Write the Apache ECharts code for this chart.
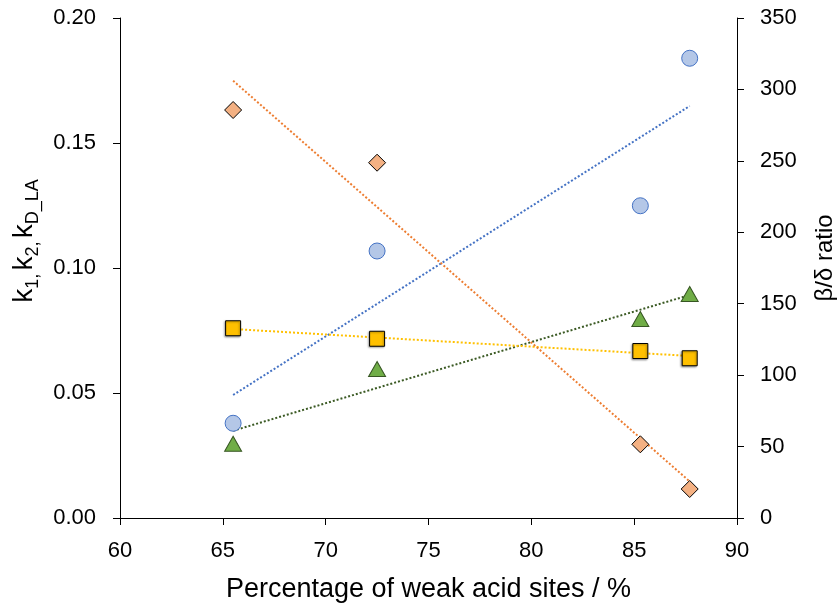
<!DOCTYPE html>
<style>
body {margin: 0; background: #fff;}
#div_echart {height: 604px; width: 837px;}
</style>
<script src='https://cdn.jsdelivr.net/npm/echarts@6/dist/echarts.min.js'></script>
<div id='div_echart'></div>
<script>
// weak acid site percentage of the four samples
let weakSites = [65.5, 72.5, 85.3, 87.7]
// rate constants (left axis)
let k1 = [0.0379, 0.1068, 0.1249, 0.1839]
let k2 = [0.0297, 0.0596, 0.0796, 0.0896]
let kDLA = [0.0759, 0.0717, 0.0668, 0.0639]
// beta/delta ratio (right axis)
let ratio = [285.6, 248.7, 51.6, 20.3]
// dotted trendlines, read at the first and last x
let trendX = [65.5, 87.7]
let k1Trend = [0.0492, 0.1648]
let k2Trend = [0.0349, 0.0892]
let kDLATrend = [0.0756, 0.0648]
let ratioTrend = [306.1, 25.6]

let font = 'Liberation Sans'
let echart = echarts.init(document.getElementById('div_echart'))

function pts(xs, ys) {
	return xs.map((x, i) => [x, ys[i]])
}
function scatter(name, data, yAxisIndex, symbol, size, fill, border, extra) {
	return Object.assign({
		name, type: 'scatter', yAxisIndex, data, symbol, symbolSize: size, z: 3,
		itemStyle: {color: fill, borderColor: border, borderWidth: 1, opacity: 1}
	}, extra || {})
}
function trend(name, data, yAxisIndex, color) {
	return {
		name, type: 'line', yAxisIndex, data, showSymbol: false, symbol: 'none', z: 2,
		lineStyle: {color, width: 2, type: [2, 2]}, silent: true
	}
}

let axisCommon = {
	axisLine: {show: true, lineStyle: {color: '#000', width: 1}},
	axisTick: {show: true, length: 7, lineStyle: {color: '#000'}},
	splitLine: {show: false},
	axisLabel: {color: '#000', fontFamily: font, fontSize: 22}
}

echart.setOption({
	animation: false,
	grid: {left: 120, right: 100, top: 18, bottom: 86, containLabel: false, outerBoundsMode: 'none'},
	xAxis: Object.assign({}, axisCommon, {
		type: 'value', min: 60, max: 90, interval: 5,
		axisLabel: Object.assign({}, axisCommon.axisLabel, {margin: 22}),
		name: 'Percentage of weak acid sites / %',
		nameLocation: 'middle', nameGap: 58,
		nameTextStyle: {color: '#000', fontFamily: font, fontSize: 27}
	}),
	yAxis: [
		Object.assign({}, axisCommon, {
			type: 'value', min: 0, max: 0.2, interval: 0.05, position: 'left',
			axisLabel: Object.assign({}, axisCommon.axisLabel, {margin: 24, formatter: v => v.toFixed(2)}),
			name: '{m|k}{s|1,} {m|k}{s|2,} {m|k}{s|D_LA}',
			nameLocation: 'middle', nameRotate: 90, nameGap: 72,
			nameTextStyle: {
				color: '#000', fontFamily: font, padding: [0, 0, 0, 54],
				rich: {
					m: {fontFamily: font, fontSize: 28, lineHeight: 36, verticalAlign: 'middle', color: '#000'},
					s: {fontFamily: font, fontSize: 18, lineHeight: 36, verticalAlign: 'bottom', color: '#000'}
				}
			}
		}),
		Object.assign({}, axisCommon, {
			type: 'value', min: 0, max: 350, interval: 50, position: 'right',
			axisLabel: Object.assign({}, axisCommon.axisLabel, {margin: 23}),
			name: 'β/δ ratio',
			nameLocation: 'middle', nameRotate: 90, nameGap: 76,
			nameTextStyle: {color: '#000', fontFamily: font, fontSize: 24, padding: [0, 0, 0, 20]}
		})
	],
	series: [
		trend('k1 trend', pts(trendX, k1Trend), 0, '#4472C4'),
		trend('k2 trend', pts(trendX, k2Trend), 0, '#3B5A24'),
		trend('kD_LA trend', pts(trendX, kDLATrend), 0, '#FFC000'),
		trend('ratio trend', pts(trendX, ratioTrend), 1, '#ED7D31'),
		scatter('k1', pts(weakSites, k1), 0, 'circle', 16, '#B4C7E7', '#4472C4'),
		scatter('k2', pts(weakSites, k2), 0, 'triangle', [17, 15], '#70AD47', '#375623'),
		scatter('kD_LA', pts(weakSites, kDLA), 0, 'rect', 15, '#FFC000', '#000', {
			itemStyle: {color: '#FFC000', borderColor: '#000', borderWidth: 1, opacity: 1,
				shadowColor: 'rgba(0,0,0,0.35)', shadowBlur: 2, shadowOffsetX: -1, shadowOffsetY: 1}
		}),
		scatter('ratio', pts(weakSites, ratio), 1, 'diamond', [17, 17], '#F4B183', '#000')
	]
})
</script>
